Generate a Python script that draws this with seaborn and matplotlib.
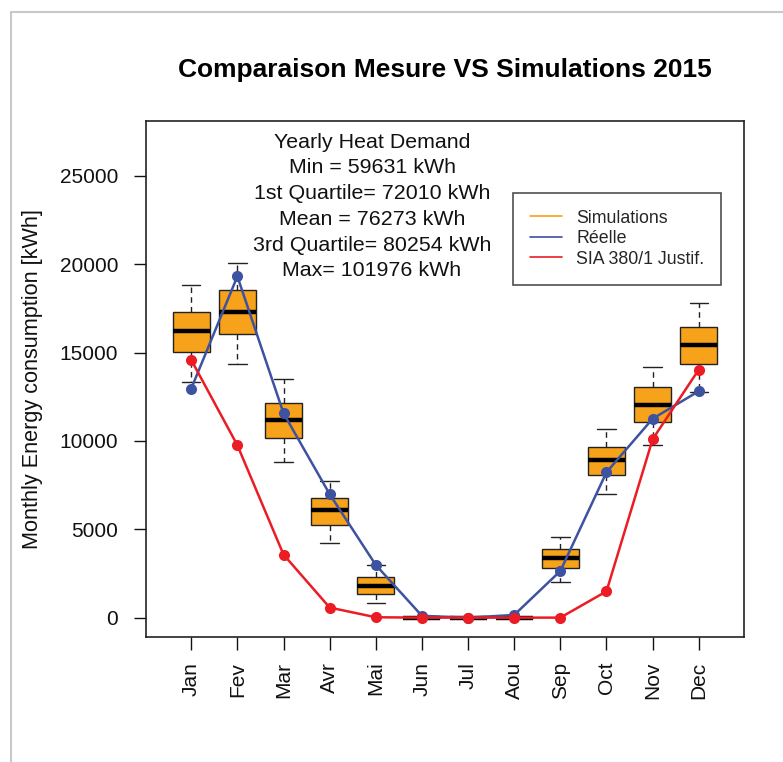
import numpy as np
import pandas as pd
import matplotlib
matplotlib.use("Agg")
import matplotlib.pyplot as plt
from matplotlib.lines import Line2D
import seaborn as sns

months = ["Jan", "Fev", "Mar", "Avr", "Mai", "Jun", "Jul", "Aou", "Sep", "Oct", "Nov", "Dec"]

# Simulated monthly heat demand [kWh]: whisker ends, quartiles and median
sim_low = [13340, 14340, 8800, 4210, 815, 0, 0, 0, 2040, 6990, 9790, 12790]
sim_q1 = [15040, 16040, 10160, 5260, 1325, 0, 0, 0, 2800, 8060, 11080, 14340]
sim_median = [16230, 17300, 11170, 6080, 1810, 0, 0, 0, 3360, 8930, 12020, 15420]
sim_q3 = [17300, 18530, 12170, 6760, 2320, 20, 0, 15, 3890, 9680, 13040, 16440]
sim_high = [18850, 20060, 13510, 7760, 2980, 60, 0, 40, 4590, 10680, 14170, 17830]

# Measured consumption and SIA 380/1 reference [kWh]
reelle = [12960, 19320, 11570, 6990, 2980, 100, 0, 150, 2640, 8230, 11260, 12820]
sia = [14590, 9760, 3570, 570, 20, 0, 0, 0, 0, 1490, 10100, 14040]

summary_lines = [
    "Yearly Heat Demand",
    "Min = 59631 kWh",
    "1st Quartile= 72010 kWh",
    "Mean = 76273 kWh",
    "3rd Quartile= 80254 kWh",
    "Max= 101976 kWh",
]

orange = "#F7A21B"
blue = "#3D52A1"
red = "#EC1C24"

sns.set_style("white")
plt.rcParams["font.family"] = ["Liberation Sans", "DejaVu Sans"]

rows = []
for i, m in enumerate(months):
    for v in (sim_low[i], sim_q1[i], sim_median[i], sim_q3[i], sim_high[i]):
        rows.append({"month": m, "kwh": v})
sim_df = pd.DataFrame(rows)

fig = plt.figure(figsize=(7.83, 7.62), dpi=100)
ax = fig.add_axes([146 / 783, 1 - 636.7 / 762, (744 - 146) / 783, (636.7 - 120.7) / 762])

sns.boxplot(
    data=sim_df, x="month", y="kwh", order=months, ax=ax,
    color=orange, saturation=1, width=0.8, whis=1.5, showfliers=False,
    linecolor="#222222", linewidth=1.0,
    medianprops=dict(color="black", linewidth=3.2),
    whiskerprops=dict(linestyle=(0, (4, 3)), color="#222222"),
    capprops=dict(color="#222222"),
)

pos = np.arange(len(months))
sns.lineplot(x=pos, y=reelle, ax=ax, color=blue, lw=1.8, marker="o",
             markersize=8, markeredgewidth=0, zorder=4)
sns.lineplot(x=pos, y=sia, ax=ax, color=red, lw=1.8, marker="o",
             markersize=8, markeredgewidth=0, zorder=5)

ax.set_xlim(-0.98, 11.98)
ax.set_ylim(-1080, 28130)
ax.set_yticks([0, 5000, 10000, 15000, 20000, 25000])
ax.set_yticklabels(["0", "5000", "10000", "15000", "20000", "25000"])
ax.set_xticks(pos)
ax.set_xticklabels(months, rotation=90)
ax.tick_params(axis="both", labelsize=15, colors="#111111", length=9, width=1.0,
               direction="out")
ax.tick_params(axis="y", pad=11)
ax.tick_params(axis="x", pad=9)
ax.tick_params(left=True, bottom=True)
for s in ax.spines.values():
    s.set_visible(True)
    s.set_color("#222222")
    s.set_linewidth(1.2)

ax.set_xlabel("")
ax.set_ylabel("Monthly Energy consumption [kWh]", fontsize=15.6, color="#111111")
ax.yaxis.set_label_coords(-0.172, 0.5)

ax.text(0.378, 0.977, "\n".join(summary_lines), transform=ax.transAxes,
        ha="center", va="top", multialignment="center", fontsize=15.4,
        linespacing=1.45, color="#111111")

handles = [
    Line2D([], [], color=orange, lw=1.2),
    Line2D([], [], color=blue, lw=1.2),
    Line2D([], [], color=red, lw=1.2),
]
leg = ax.legend(handles, ["Simulations", "Réelle", "SIA 380/1 Justif."],
                loc="upper left", bbox_to_anchor=(0.6137, 0.8605),
                borderaxespad=0, fontsize=12.8, frameon=True, fancybox=False,
                edgecolor="#222222", handlelength=1.8, handletextpad=0.8,
                labelspacing=0.2, borderpad=0.95)
leg.get_frame().set_linewidth(1.2)

fig.text(445 / 783, 1 - 70 / 762, "Comparaison Mesure VS Simulations 2015",
         ha="center", va="center", fontsize=19, fontweight="bold", color="black")

# thin grey frame along the top and left edges
fig.add_artist(Line2D([11 / 783, 1], [1 - 12 / 762, 1 - 12 / 762],
                      transform=fig.transFigure, color="#c8c8c8", lw=1.5))
fig.add_artist(Line2D([11 / 783, 11 / 783], [0, 1 - 12 / 762],
                      transform=fig.transFigure, color="#c8c8c8", lw=1.5))

fig.savefig("out.png", dpi=100, facecolor="white")
